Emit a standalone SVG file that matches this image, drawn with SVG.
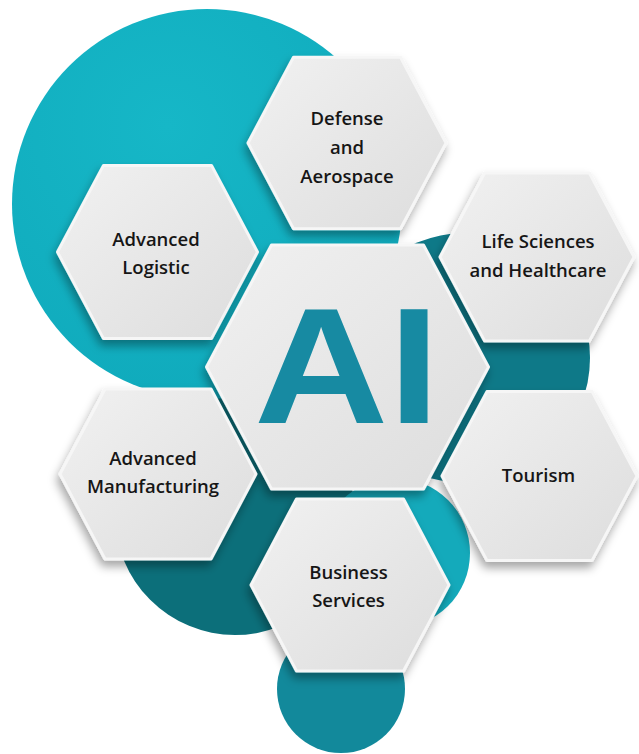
<svg xmlns="http://www.w3.org/2000/svg" width="639" height="754" viewBox="0 0 639 754">
  <defs>
    <linearGradient id="hexFill" x1="0" y1="0" x2="1" y2="1">
      <stop offset="0" stop-color="#f1f1f1"/>
      <stop offset="1" stop-color="#dddddd"/>
    </linearGradient>
    <radialGradient id="bigCircle" cx="0.4" cy="0.3" r="0.8">
      <stop offset="0" stop-color="#16b7c7"/>
      <stop offset="1" stop-color="#0fa9bb"/>
    </radialGradient>
    <filter id="shadow" x="-20%" y="-20%" width="140%" height="150%">
      <feDropShadow dx="-2" dy="6" stdDeviation="5" flood-color="#000" flood-opacity="0.35"/>
    </filter>
  </defs>
  <style>
    .hex { fill: url(#hexFill); stroke: #f6f6f6; stroke-width: 3; stroke-linejoin: round; filter: url(#shadow); }
    .lbl { font-family: "Open Sans", "Liberation Sans", Arial, sans-serif; font-weight: 600; font-size: 18.5px; fill: #161616; text-anchor: middle; }
    .ai { font-family: "Liberation Sans", Arial, sans-serif; font-weight: 700; font-size: 165px; fill: #178aa2; }
  </style>
  <rect width="639" height="754" fill="#ffffff"/>

  <g id="background-circles">
    <circle cx="235" cy="515" r="120" fill="#0c6f7a"/>
    <circle cx="207" cy="204" r="195" fill="url(#bigCircle)"/>
    <circle cx="465" cy="358" r="125" fill="#0e7988"/>
    <circle cx="395" cy="553" r="75" fill="#14aabb"/>
    <circle cx="341" cy="689" r="64" fill="#12899b"/>
  </g>

  <g id="node-defense">
    <polygon class="hex" points="248,143 293.5,57.3 400.5,57.3 446,143 400.5,228.7 293.5,228.7"/>
    <text class="lbl" x="347" y="125">Defense</text>
    <text class="lbl" x="347" y="154">and</text>
    <text class="lbl" x="347" y="183">Aerospace</text>
  </g>

  <g id="node-advanced-logistic">
    <polygon class="hex" points="57.5,252 103.5,165.4 211.5,165.4 257.5,252 211.5,338.6 103.5,338.6"/>
    <text class="lbl" x="156" y="246">Advanced</text>
    <text class="lbl" x="156" y="274">Logistic</text>
  </g>

  <g id="node-life-sciences">
    <polygon class="hex" points="440,257 484.6,173 589.4,173 634,257 589.4,341 484.6,341"/>
    <text class="lbl" x="538" y="248">Life Sciences</text>
    <text class="lbl" x="538" y="277">and Healthcare</text>
  </g>

  <g id="node-ai">
    <polygon class="hex" points="206.5,367 271.5,245 423.5,245 488.5,367 423.5,489 271.5,489"/>
    <text class="ai" x="254" y="423" textLength="186" lengthAdjust="spacingAndGlyphs">AI</text>
  </g>

  <g id="node-advanced-manufacturing">
    <polygon class="hex" points="60,474 105,389 211,389 256,474 211,559 105,559"/>
    <text class="lbl" x="153" y="465">Advanced</text>
    <text class="lbl" x="153" y="493">Manufacturing</text>
  </g>

  <g id="node-tourism">
    <polygon class="hex" points="442,476 486.9,391.6 592.1,391.6 637,476 592.1,560.4 486.9,560.4"/>
    <text class="lbl" x="538.5" y="482">Tourism</text>
  </g>

  <g id="node-business-services">
    <polygon class="hex" points="251,585 296.5,499 403.5,499 449,585 403.5,671 296.5,671"/>
    <text class="lbl" x="348.5" y="579">Business</text>
    <text class="lbl" x="348.5" y="607">Services</text>
  </g>
</svg>
